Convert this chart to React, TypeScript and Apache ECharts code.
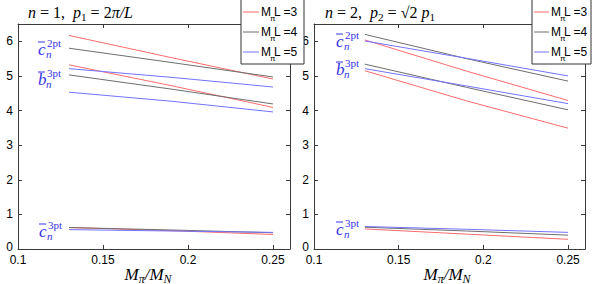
import React, { useEffect, useRef } from 'react';
import * as echarts from 'echarts';

// x values (M_pi / M_N)
const massRatio = [0.13, 0.19, 0.25];
const xTicks = [0.1, 0.15, 0.2, 0.25];
const yTicks = [0, 1, 2, 3, 4, 5, 6];
const lValues = ['3', '4', '5'];

// Panel n = 1
const n1C2ptL3 = [6.17, 5.53, 4.91];
const n1C2ptL4 = [5.8, 5.39, 4.97];
const n1C2ptL5 = [5.21, 4.96, 4.68];
const n1B3ptL3 = [5.32, 4.72, 4.09];
const n1B3ptL4 = [5.03, 4.62, 4.19];
const n1B3ptL5 = [4.53, 4.27, 3.96];
const n1C3ptL3 = [0.62, 0.53, 0.42];
const n1C3ptL4 = [0.62, 0.55, 0.47];
const n1C3ptL5 = [0.56, 0.52, 0.48];

// Panel n = 2
const n2C2ptL3 = [6.04, 5.14, 4.29];
const n2C2ptL4 = [6.2, 5.5, 4.85];
const n2C2ptL5 = [6.01, 5.51, 5.0];
const n2B3ptL3 = [5.15, 4.28, 3.49];
const n2B3ptL4 = [5.34, 4.67, 4.02];
const n2B3ptL5 = [5.21, 4.71, 4.2];
const n2C3ptL3 = [0.58, 0.43, 0.28];
const n2C3ptL4 = [0.63, 0.52, 0.4];
const n2C3ptL5 = [0.65, 0.57, 0.48];

const lineColors = ['#ff6b6b', '#6e6e6e', '#7373ff'];
const annColor = '#3434ea';
const axisColor = '#3a3a3a';

const panels = [
  { groups: [[n1C2ptL3, n1C2ptL4, n1C2ptL5], [n1B3ptL3, n1B3ptL4, n1B3ptL5], [n1C3ptL3, n1C3ptL4, n1C3ptL5]] },
  { groups: [[n2C2ptL3, n2C2ptL4, n2C2ptL5], [n2B3ptL3, n2B3ptL4, n2B3ptL5], [n2C3ptL3, n2C3ptL4, n2C3ptL5]] },
];

const onTick = (v: number, ticks: number[]) => ticks.some((t) => Math.abs(t - v) < 1e-9);

function xAxis(gridIndex: number, position: 'bottom' | 'top') {
  return {
    type: 'value',
    gridIndex,
    position,
    min: 0.1,
    max: 0.26,
    interval: 0.05,
    axisLine: { show: true, onZero: false, lineStyle: { color: axisColor, width: 1 } },
    axisTick: { show: true, inside: true, length: 4, lineStyle: { color: axisColor } },
    axisLabel: {
      show: position === 'bottom',
      margin: 5,
      lineHeight: 12,
      color: '#000',
      fontSize: 12,
      fontFamily: 'Liberation Sans',
      formatter: (v: number) => (onTick(v, xTicks) ? String(+v.toFixed(2)) : ''),
    },
    splitLine: { show: false },
  };
}

function yAxis(gridIndex: number, position: 'left' | 'right') {
  return {
    type: 'value',
    gridIndex,
    position,
    min: 0,
    max: 6.5,
    interval: 1,
    axisLine: { show: true, onZero: false, lineStyle: { color: axisColor, width: 1 } },
    axisTick: { show: true, inside: true, length: 4, lineStyle: { color: axisColor } },
    axisLabel: {
      show: position === 'left',
      margin: 5,
      lineHeight: 9,
      color: '#000',
      fontSize: 12,
      fontFamily: 'Liberation Sans',
      formatter: (v: number) => (onTick(v, yTicks) ? (v === 0 ? '{z|0}' : String(v)) : ''),
      rich: {
        z: { fontSize: 12, fontFamily: 'Liberation Sans', color: '#000', lineHeight: 9, padding: [0, 0, 5, 0] },
      },
    },
    splitLine: { show: false },
  };
}

const serif = 'Liberation Serif';

function mathText(x: number, y: number, text: string, size: number, align = 'left', color = '#000') {
  return {
    type: 'text',
    x,
    y,
    z: 50,
    style: {
      text,
      align,
      verticalAlign: 'middle',
      fill: color,
      rich: {
        i: { fontFamily: serif, fontStyle: 'italic', fontSize: size, lineHeight: size + 4, verticalAlign: 'middle', fill: color },
        r: { fontFamily: serif, fontSize: size, lineHeight: size + 4, verticalAlign: 'middle', fill: color },
        s: { fontFamily: serif, fontSize: size * 0.7, lineHeight: size * 0.7, verticalAlign: 'bottom', fill: color },
        si: { fontFamily: serif, fontStyle: 'italic', fontSize: size * 0.7, lineHeight: size * 0.7, verticalAlign: 'bottom', fill: color },
      },
    },
  };
}

function annotation(x: number, y: number, base: string, sup: string) {
  return [
    { type: 'text', x, y, z: 50, style: { text: base, font: `italic 17px "${serif}"`, fill: annColor, verticalAlign: 'middle' } },
    { type: 'line', z: 50, shape: { x1: x, y1: y - 7, x2: x + 7, y2: y - 7 }, style: { stroke: annColor, lineWidth: 1 } },
    { type: 'text', x: x + 9, y: y - 6, z: 50, style: { text: sup, font: `11px "${serif}"`, fill: annColor, verticalAlign: 'middle' } },
    { type: 'text', x: x + 8, y: y + 5, z: 50, style: { text: 'n', font: `italic 11px "${serif}"`, fill: annColor, verticalAlign: 'middle' } },
  ];
}

function legendBox(x: number, w: number, lineLen: number) {
  const els: any[] = [
    { type: 'rect', z: 100, shape: { x, y: -1, width: w, height: 65 }, style: { fill: '#fff', stroke: '#333', lineWidth: 1 } },
  ];
  lValues.forEach((l, i) => {
    const y = 12 + i * 20;
    const tx = x + lineLen + 4;
    els.push({ type: 'line', z: 101, shape: { x1: x + 2, y1: y, x2: x + 2 + lineLen, y2: y }, style: { stroke: lineColors[i], lineWidth: 1 } });
    els.push({ type: 'text', x: tx, y, z: 101, style: { text: 'M', font: '12px "Liberation Sans"', fill: '#000', verticalAlign: 'middle' } });
    els.push({ type: 'text', x: tx + 9, y: y + 6, z: 101, style: { text: 'π', font: '8px "Liberation Sans"', fill: '#000', verticalAlign: 'middle' } });
    els.push({ type: 'text', x: tx + 13, y, z: 101, style: { text: `L =${l}`, font: '12px "Liberation Sans"', fill: '#000', verticalAlign: 'middle' } });
  });
  return els;
}

export default function App() {
  const ref = useRef<HTMLDivElement>(null);
  useEffect(() => {
    if (!ref.current) return;
    const chart = echarts.init(ref.current, null, { renderer: 'svg' });
    const series: any[] = [];
    panels.forEach((p, pi) => {
      p.groups.forEach((g, gi) => {
        g.forEach((vals, li) => {
          series.push({
            type: 'line',
            name: `n${pi + 1}-q${gi}-L${lValues[li]}`,
            xAxisIndex: pi * 2,
            yAxisIndex: pi * 2,
            data: massRatio.map((x, k) => [x, vals[k]]),
            symbol: 'none',
            showSymbol: false,
            lineStyle: { color: lineColors[li], width: 1 },
            z: 2 + li,
          });
        });
      });
    });
    chart.setOption({
      animation: false,
      backgroundColor: '#fff',
      grid: [
        { left: 18, top: 24, width: 272, height: 225 },
        { left: 314, top: 24, width: 271, height: 225 },
      ],
      xAxis: [xAxis(0, 'bottom'), xAxis(0, 'top'), xAxis(1, 'bottom'), xAxis(1, 'top')],
      yAxis: [yAxis(0, 'left'), yAxis(0, 'right'), yAxis(1, 'left'), yAxis(1, 'right')],
      series,
      graphic: [
        mathText(28, 12, '{i|n}{r| = 1,  }{i|p}{s|1}{r| = 2}{i|π/L}', 16),
        mathText(325, 12, '{i|n}{r| = 2,  }{i|p}{s|2}{r| = √2 }{i|p}{s|1}', 16),
        mathText(148, 274, '{i|M}{si|π}{i|/M}{si|N}', 17, 'center'),
        mathText(447, 274, '{i|M}{si|π}{i|/M}{si|N}', 17, 'center'),
        ...annotation(38, 49, 'c', '2pt'),
        ...annotation(38, 79, 'b', '3pt'),
        ...annotation(39, 231, 'c', '3pt'),
        ...annotation(336, 41, 'c', '2pt'),
        ...annotation(336, 69, 'b', '3pt'),
        ...annotation(336, 229, 'c', '3pt'),
        ...legendBox(241, 63, 16),
        ...legendBox(532, 59, 15),
      ],
    });
    return () => chart.dispose();
  }, []);
  return <div ref={ref} style={{ position: 'fixed', left: 0, top: 0, width: 600, height: 284, background: '#fff' }} />;
}
